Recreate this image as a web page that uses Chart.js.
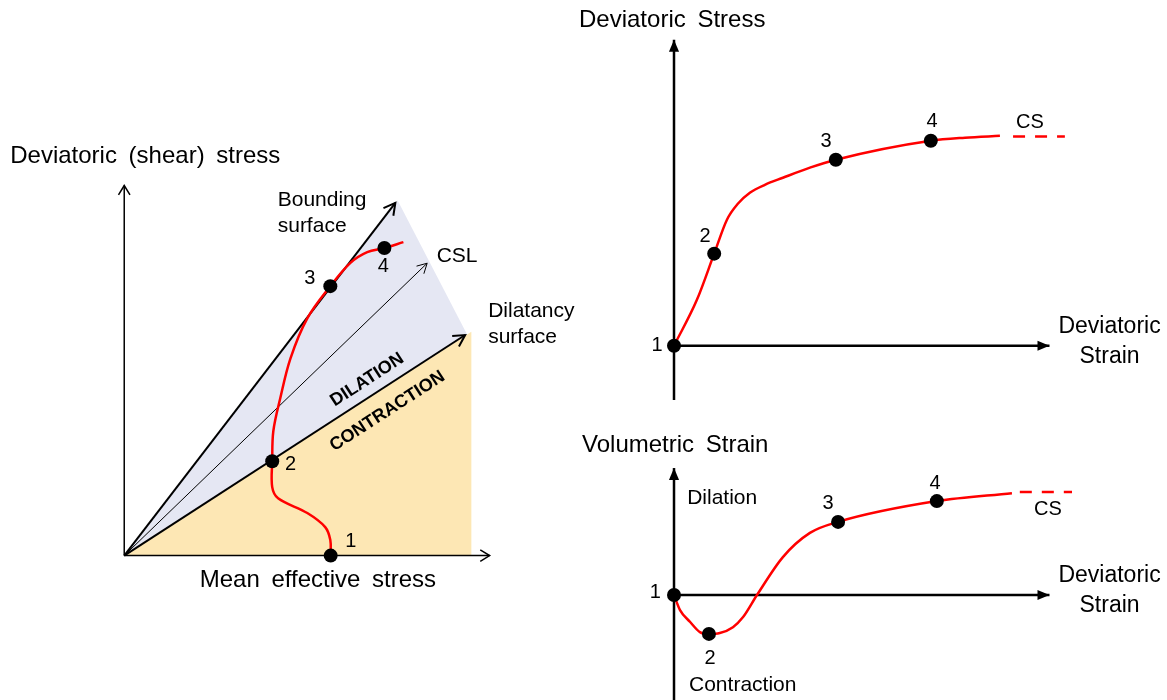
<!DOCTYPE html>
<html>
<head>
<meta charset="utf-8">
<script src="https://cdn.jsdelivr.net/npm/chart.js@4.4.0/dist/chart.umd.min.js"></script>
<style>
  html, body { margin: 0; padding: 0; background: #fff; }
  body { width: 1167px; height: 700px; position: relative; overflow: hidden; }
  .panel { position: absolute; }
</style>
</head>
<body>
<div class="panel" style="left:0;top:130px;width:590px;height:470px"><canvas id="pathChart"></canvas></div>
<div class="panel" style="left:570px;top:0;width:597px;height:410px"><canvas id="stressChart"></canvas></div>
<div class="panel" style="left:570px;top:420px;width:597px;height:280px"><canvas id="volChart"></canvas></div>
<script>
// ---- left panel: stress path in p'-q space ----
const pathP = [5.65, 5.64, 5.50, 5.01, 4.21, 4.05, 4.05, 4.08, 4.27, 4.55, 5.01, 5.64, 6.19, 6.65, 7.12, 7.64];
const pathQ = [0, 0.42, 0.77, 1.15, 1.55, 1.85, 2.55, 3.36, 4.25, 5.33, 6.41, 7.28, 7.91, 8.20, 8.31, 8.47];
const pathStateP = [5.65, 4.05, 5.64, 7.12];
const pathStateQ = [0, 2.55, 7.28, 8.31];
const boundingP = [0, 7.42];
const boundingQ = [0, 9.53];
const cslP = [0, 8.29];
const cslQ = [0, 7.90];
const dilatancyP = [0, 9.33];
const dilatancyQ = [0, 5.96];
const dilationZoneP = [0, 7.48, 9.38, 0];
const dilationZoneQ = [0, 9.60, 5.98, 0];
const contractionZoneP = [0, 9.50, 9.50, 0];
const contractionZoneQ = [0, 6.05, 0, 0];

// ---- top right: deviatoric stress vs deviatoric strain ----
const strainQ = [0, 0.61, 1.07, 1.41, 1.70, 2.02, 2.42, 2.90, 3.62, 4.31, 6.84, 7.75, 8.68];
const stressQ = [0, 1.50, 3.01, 4.12, 4.64, 5.00, 5.26, 5.49, 5.82, 6.08, 6.70, 6.80, 6.86];
const stateStrainQ = [0, 1.07, 4.31, 6.84];
const stateStressQ = [0, 3.01, 6.08, 6.70];
const csStrainQ = [9.03, 10.41];
const csStressQ = [6.84, 6.84];

// ---- bottom right: volumetric strain vs deviatoric strain ----
const strainV = [0, 0.16, 0.43, 0.69, 0.93, 1.22, 1.57, 1.84, 2.21, 2.90, 3.62, 4.37, 7.00, 9.00];
const volV = [0, -0.49, -0.88, -1.21, -1.27, -1.24, -1.05, -0.72, 0, 1.24, 2.03, 2.39, 3.07, 3.33];
const stateStrainV = [0, 0.93, 4.37, 7.00];
const stateVolV = [0, -1.27, 2.39, 3.07];
const csStrainV = [9.21, 10.60];
const csVolV = [3.37, 3.37];

const stateLabels = ['1', '2', '3', '4'];
const FONT = "'Liberation Sans', Arial, sans-serif";
const RED = '#ff0000';

function pts(xs, ys) {
    return xs.map((x, i) => ({ x: x, y: ys[i] }));
}

function line(xs, ys, color, width, extra) {
    return Object.assign({
        data: pts(xs, ys),
        showLine: true,
        borderColor: color,
        borderWidth: width,
        pointRadius: 0,
        tension: 0
    }, extra || {});
}

function zone(xs, ys, color) {
    return {
        data: pts(xs, ys),
        showLine: true,
        borderColor: 'rgba(0,0,0,0)',
        borderWidth: 1,
        backgroundColor: color,
        fill: 'shape',
        pointRadius: 0,
        order: 20
    };
}

function dots(xs, ys, r) {
    return {
        data: pts(xs, ys),
        showLine: false,
        pointRadius: r,
        pointBackgroundColor: '#000',
        pointBorderWidth: 0,
        order: 0
    };
}

// arrow heads and text, placed through the chart's scales
function overlay(arrows, notes) {
    return {
        id: 'overlay',
        afterDatasetsDraw(chart) {
            const ctx = chart.ctx;
            ctx.save();
            arrows.forEach(a => {
                const el = chart.getDatasetMeta(a.ds).data;
                const tip = el[el.length - 1], prev = el[el.length - 2];
                const ang = Math.atan2(tip.y - prev.y, tip.x - prev.x);
                ctx.strokeStyle = '#000';
                ctx.fillStyle = '#000';
                ctx.lineWidth = a.w;
                ctx.lineJoin = 'miter';
                ctx.beginPath();
                ctx.moveTo(tip.x - a.len * Math.cos(ang - a.spread), tip.y - a.len * Math.sin(ang - a.spread));
                ctx.lineTo(tip.x, tip.y);
                ctx.lineTo(tip.x - a.len * Math.cos(ang + a.spread), tip.y - a.len * Math.sin(ang + a.spread));
                if (a.solid) {
                    ctx.closePath();
                    ctx.fill();
                } else {
                    ctx.stroke();
                }
            });
            notes.forEach(n => {
                const px = chart.scales.x.getPixelForValue(n.x);
                const py = chart.scales.y.getPixelForValue(n.y);
                ctx.save();
                ctx.translate(px, py);
                if (n.along !== undefined) {
                    const el = chart.getDatasetMeta(n.along).data;
                    ctx.rotate(Math.atan2(el[1].y - el[0].y, el[1].x - el[0].x));
                }
                ctx.font = (n.bold ? 'bold ' : '') + n.size + 'px ' + FONT;
                if ('wordSpacing' in ctx) ctx.wordSpacing = (n.ws || 0) + 'px';
                ctx.fillStyle = '#000';
                ctx.textAlign = n.align || 'center';
                ctx.textBaseline = 'middle';
                ctx.fillText(n.t, 0, 0);
                ctx.restore();
            });
            ctx.restore();
        }
    };
}

function makeChart(id, xr, yr, datasets, arrows, notes) {
    return new Chart(document.getElementById(id), {
        type: 'scatter',
        data: { datasets: datasets },
        options: {
            responsive: true,
            maintainAspectRatio: false,
            animation: false,
            events: [],
            layout: { padding: 0, autoPadding: false },
            plugins: { legend: { display: false }, tooltip: { enabled: false } },
            scales: {
                x: { type: 'linear', min: xr[0], max: xr[1], display: false },
                y: { type: 'linear', min: yr[0], max: yr[1], display: false }
            }
        },
        plugins: [overlay(arrows, notes)]
    });
}

// left panel
makeChart('pathChart', [-3.4, 12.747], [-1.2, 11.5], [
    line([0, 10], [0, 0], '#000', 1.5, { order: 5 }),             // 0 p' axis
    line([0, 0], [0, 10], '#000', 1.5, { order: 5 }),             // 1 q axis
    line(boundingP, boundingQ, '#000', 2, { order: 5 }),          // 2
    line(cslP, cslQ, '#000', 1, { order: 5 }),                    // 3
    line(dilatancyP, dilatancyQ, '#000', 2, { order: 5 }),        // 4
    zone(dilationZoneP, dilationZoneQ, '#e5e7f3'),
    zone(contractionZoneP, contractionZoneQ, '#fde7b4'),
    line(pathP, pathQ, RED, 2.5, { tension: 0.35, order: 2 }),
    dots(pathStateP, pathStateQ, 7)
], [
    { ds: 0, len: 11, spread: 0.55, w: 1.5 },
    { ds: 1, len: 11, spread: 0.55, w: 1.5 },
    { ds: 2, len: 13, spread: 0.5, w: 2 },
    { ds: 3, len: 11, spread: 0.5, w: 1 },
    { ds: 4, len: 13, spread: 0.5, w: 2 }
], [
    { t: 'Deviatoric (shear) stress', x: -3.12, y: 10.8, size: 24, align: 'left', ws: 5 },
    { t: 'Mean effective stress', x: 5.3, y: -0.66, size: 24, ws: 5 },
    { t: stateLabels[0], x: 6.2, y: 0.38, size: 20 },
    { t: stateLabels[1], x: 4.55, y: 2.45, size: 20 },
    { t: stateLabels[2], x: 5.08, y: 7.5, size: 20 },
    { t: stateLabels[3], x: 7.09, y: 7.8, size: 20 },
    { t: 'Bounding', x: 4.2, y: 9.6, size: 21, align: 'left' },
    { t: 'surface', x: 4.2, y: 8.9, size: 21, align: 'left' },
    { t: 'CSL', x: 8.55, y: 8.1, size: 21, align: 'left' },
    { t: 'Dilatancy', x: 9.96, y: 6.6, size: 21, align: 'left' },
    { t: 'surface', x: 9.96, y: 5.9, size: 21, align: 'left' },
    { t: 'DILATION', x: 6.65, y: 4.75, size: 18, bold: true, along: 4 },
    { t: 'CONTRACTION', x: 7.2, y: 3.9, size: 18, bold: true, along: 4 }
]);

// top right panel
makeChart('stressChart', [-2.77, 13.13], [-2.1, 11.3], [
    line([0, 10], [0, 0], '#000', 2.5, { order: 5 }),             // 0 strain axis
    line([0, 0], [-1.77, 10], '#000', 2.5, { order: 5 }),         // 1 stress axis
    line(strainQ, stressQ, RED, 2.5, { cubicInterpolationMode: 'monotone', order: 2 }),
    line(csStrainQ, csStressQ, RED, 2.5, { borderDash: [12, 10], order: 2 }),
    dots(stateStrainQ, stateStressQ, 7)
], [
    { ds: 0, len: 13, spread: 0.4, w: 1, solid: true },
    { ds: 1, len: 13, spread: 0.4, w: 1, solid: true }
], [
    { t: 'Deviatoric Stress', x: -2.53, y: 10.65, size: 24, align: 'left', ws: 5 },
    { t: stateLabels[0], x: -0.45, y: 0, size: 20 },
    { t: stateLabels[1], x: 0.83, y: 3.56, size: 20 },
    { t: stateLabels[2], x: 4.05, y: 6.67, size: 20 },
    { t: stateLabels[3], x: 6.87, y: 7.32, size: 20 },
    { t: 'CS', x: 9.48, y: 7.29, size: 20 },
    { t: 'Deviatoric', x: 11.6, y: 0.62, size: 23 },
    { t: 'Strain', x: 11.6, y: -0.36, size: 23 }
]);

// bottom right panel
makeChart('volChart', [-2.77, 13.13], [-3.43, 5.72], [
    line([0, 10], [0, 0], '#000', 2.5, { order: 5 }),             // 0 strain axis
    line([0, 0], [-3.6, 4.15], '#000', 2.5, { order: 5 }),        // 1 volumetric axis
    line(strainV, volV, RED, 2.5, { cubicInterpolationMode: 'monotone', order: 2 }),
    line(csStrainV, csVolV, RED, 2.5, { borderDash: [12, 10], order: 2 }),
    dots(stateStrainV, stateVolV, 7)
], [
    { ds: 0, len: 13, spread: 0.4, w: 1, solid: true },
    { ds: 1, len: 13, spread: 0.4, w: 1, solid: true }
], [
    { t: 'Volumetric Strain', x: -2.45, y: 4.9, size: 24, align: 'left', ws: 5 },
    { t: 'Dilation', x: 0.35, y: 3.17, size: 21, align: 'left' },
    { t: 'Contraction', x: 0.4, y: -2.94, size: 21, align: 'left' },
    { t: stateLabels[0], x: -0.5, y: 0.07, size: 20 },
    { t: stateLabels[1], x: 0.96, y: -2.06, size: 20 },
    { t: stateLabels[2], x: 4.1, y: 3.0, size: 20 },
    { t: stateLabels[3], x: 6.95, y: 3.66, size: 20 },
    { t: 'CS', x: 9.96, y: 2.81, size: 20 },
    { t: 'Deviatoric', x: 11.6, y: 0.62, size: 23 },
    { t: 'Strain', x: 11.6, y: -0.36, size: 23 }
]);
</script>
</body>
</html>
